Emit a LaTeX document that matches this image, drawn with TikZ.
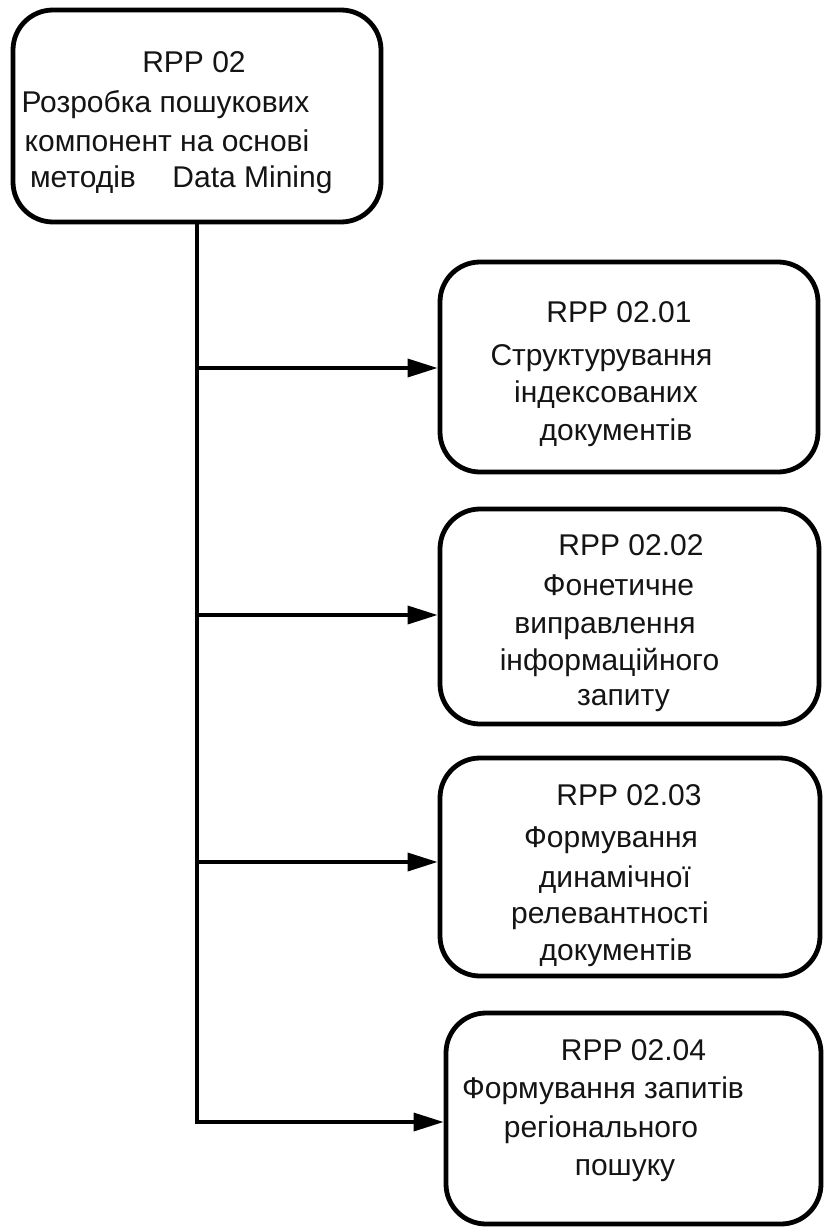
\documentclass[tikz,border=0pt]{standalone}
\usepackage{fontspec}
\setmainfont{Liberation Sans}
\usetikzlibrary{arrows.meta}
\tikzset{
  box/.style={draw=black, line width=4.8pt, rounded corners=40pt, inner sep=0pt},
  conn/.style={line width=3.5pt, draw=black},
  arr/.style={conn, -{Triangle[length=30pt,width=18pt]}},
  txt/.style={anchor=base, inner sep=0pt, font=\fontsize{30}{34}\selectfont, text=black!92}
}
\begin{document}
\begin{tikzpicture}[x=1pt,y=-1pt]
\path[fill=white, use as bounding box] (0,0) rectangle (826,1231);
% boxes
\node[box, minimum width=368pt, minimum height=212pt] (b0) at (197,116) {};
\node[box, minimum width=378pt, minimum height=210pt] (b1) at (629,367) {};
\node[box, minimum width=379pt, minimum height=215pt] (b2) at (629.5,616.5) {};
\node[box, minimum width=380pt, minimum height=218pt] (b3) at (630,867) {};
\node[box, minimum width=375pt, minimum height=211pt] (b4) at (633.5,1118.5) {};
% junctions on trunk
\coordinate (j1) at (197,368);
\coordinate (j2) at (197,615);
\coordinate (j3) at (197,862);
\coordinate (j4) at (197,1122);
\draw[arr] (b0.south) -- (j4) -- (j4 -| b4.west);
\draw[arr] (j1) -- (j1 -| b1.west);
\draw[arr] (j2) -- (j2 -| b2.west);
\draw[arr] (j3) -- (j3 -| b3.west);
% box 0 text
\node[txt] (t0a) at (194,73) {RPP 02};
\node[txt] (t0b) at (165.5,112) {Розробка пошукових};
\node[txt] (t0c) at (167,151) {компонент на основі};
\node[txt] (t0d) at (83,187) {методів};
\node[txt] (t0e) at (252.5,187) {Data Mining};
% box 1 text
\node[txt] (t1a) at (619,322) {RPP 02.01};
\node[txt] (t1b) at (601.5,365) {Структурування};
\node[txt] (t1c) at (606,402) {індексованих};
\node[txt] (t1d) at (616,440) {документів};
% box 2 text
\node[txt] (t2a) at (631,555) {RPP 02.02};
\node[txt] (t2b) at (618.5,595) {Фонетичне};
\node[txt] (t2c) at (605,633) {виправлення};
\node[txt] (t2d) at (609.5,670) {інформаційного};
\node[txt] (t2e) at (623.5,705) {запиту};
% box 3 text
\node[txt] (t3a) at (629,805) {RPP 02.03};
\node[txt] (t3b) at (611,847) {Формування};
\node[txt] (t3c) at (615,887) {динамічної};
\node[txt] (t3d) at (610,923) {релевантності};
\node[txt] (t3e) at (616,960) {документів};
% box 4 text
\node[txt] (t4a) at (633.5,1060) {RPP 02.04};
\node[txt] (t4b) at (603,1098) {Формування запитів};
\node[txt] (t4c) at (601,1137) {регіонального};
\node[txt] (t4d) at (625,1175) {пошуку};
\end{tikzpicture}
\end{document}
